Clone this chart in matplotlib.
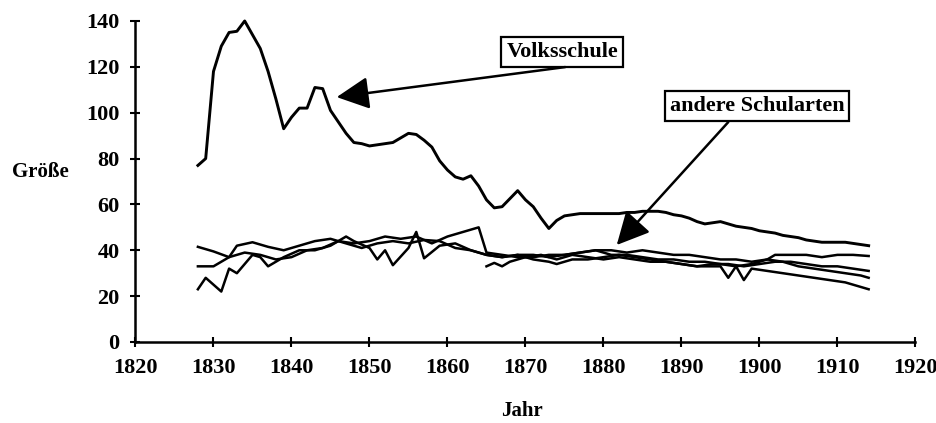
import matplotlib
matplotlib.use("Agg")
import matplotlib.pyplot as plt

# Volksschule (yearly)
volks_years = list(range(1828, 1915))
volks_vals = [77, 80, 118, 129, 135, 135.5, 140, 134, 128, 118,
              106, 93, 98, 102, 102, 111, 110.5, 101, 96, 91,
              87, 86.5, 85.5, 86, 86.5, 87, 89, 91, 90.5, 88,
              85, 79, 75, 72, 71, 72.5, 68, 62, 58.5, 59,
              62.5, 66, 62, 59, 54, 49.5, 53, 55, 55.5, 56,
              56, 56, 56, 56, 56, 56.5, 56.5, 57, 57, 57,
              56.5, 55.5, 55, 54, 52.5, 51.5, 52, 52.5, 51.5, 50.5,
              50, 49.5, 48.5, 48, 47.5, 46.5, 46, 45.5, 44.5, 44,
              43.5, 43.5, 43.5, 43.5, 43, 42.5, 42]

# andere Schularten
yrs_a = [1828, 1830, 1832, 1833, 1835, 1837, 1839, 1841, 1843, 1845, 1847, 1849,
         1851, 1853, 1855, 1857, 1859, 1861, 1863, 1865, 1867, 1869, 1871, 1873,
         1875, 1877, 1879, 1881, 1883, 1885, 1887, 1889, 1891, 1893, 1895, 1897,
         1899, 1901, 1902, 1904, 1906, 1908, 1910, 1912, 1914]
val_a = [41.5, 39.5, 37, 42, 43.5, 41.5, 40, 42, 44, 45, 43, 41,
         43, 44, 43, 44.5, 44, 41, 40, 38, 37, 38, 38, 37,
         38, 39, 40, 40, 39, 40, 39, 38, 38, 37, 36, 36,
         35, 36, 38, 38, 38, 37, 38, 38, 37.5]

yrs_b = [1828, 1830, 1832, 1834, 1836, 1838, 1840, 1842, 1844, 1846, 1848, 1850,
         1852, 1854, 1856, 1858, 1860, 1862, 1864, 1865, 1867, 1869, 1871, 1873,
         1875, 1877, 1879, 1881, 1883, 1885, 1887, 1889, 1891, 1893, 1895, 1897,
         1899, 1901, 1903, 1905, 1907, 1909, 1911, 1913, 1914]
val_b = [33, 33, 37, 39, 38, 36, 37, 40, 41, 44, 43, 44,
         46, 45, 46, 43, 46, 48, 50, 39, 38, 37, 37, 38,
         38, 39, 40, 38, 38, 37, 36, 36, 35, 35, 34, 33,
         34, 36, 35, 33, 32, 31, 30, 29, 28]

yrs_c = [1828, 1829, 1831, 1832, 1833, 1835, 1836, 1837, 1839, 1841, 1843, 1845,
         1847, 1848, 1850, 1851, 1852, 1853, 1855, 1856, 1857, 1859, 1861, 1863,
         1865, 1867, 1869, 1871, 1873, 1874, 1876, 1878, 1880, 1882, 1884, 1886,
         1888, 1890, 1892, 1894, 1895, 1896, 1897, 1898, 1899, 1901, 1903, 1905,
         1907, 1909, 1911, 1913, 1914]
val_c = [23, 28, 22, 32, 30, 38, 37, 33, 37, 40, 40, 42,
         46, 44, 41, 36, 40, 33.5, 41, 48, 36.5, 42, 43, 40,
         38, 37, 38, 36, 35, 34, 36, 36, 37, 38, 37, 36,
         35, 34, 33, 33, 33, 28, 33, 27, 32, 31, 30, 29,
         28, 27, 26, 24, 23]

yrs_d = [1865, 1866, 1867, 1868, 1870, 1872, 1874, 1876, 1878, 1880, 1882, 1884,
         1886, 1888, 1890, 1892, 1894, 1896, 1898, 1900, 1902, 1904, 1906, 1908,
         1910, 1912, 1914]
val_d = [33, 34.5, 33, 35, 37, 38, 36, 38, 37, 36, 37, 36,
         35, 35, 34, 33, 34, 34, 33, 34, 35, 35, 34, 33,
         33, 32, 31]

plt.rcParams['font.family'] = ['Liberation Serif', 'DejaVu Serif']
plt.rcParams['font.weight'] = 'bold'

fig = plt.figure(figsize=(9.37, 4.23), dpi=100)
ax = fig.add_axes([0.1446, 0.1915, 0.8324, 0.7589])

ax.plot(volks_years, volks_vals, color='black', lw=2.1, clip_on=False)
for yy, vv in [(yrs_a, val_a), (yrs_b, val_b), (yrs_c, val_c), (yrs_d, val_d)]:
    ax.plot(yy, vv, color='black', lw=1.8, clip_on=False)

ax.set_xlim(1820, 1920)
ax.set_ylim(0, 140)
ax.set_xticks(range(1820, 1921, 10))
ax.set_yticks(range(0, 141, 20))
ax.spines['top'].set_visible(False)
ax.spines['right'].set_visible(False)
ax.spines['left'].set_linewidth(1.8)
ax.spines['bottom'].set_linewidth(1.8)
ax.tick_params(direction='inout', length=7, width=1.5, labelsize=16, pad=8)

ax.set_ylabel('Größe', rotation=0, fontsize=15, fontweight='bold', ha='center', va='center')
ax.yaxis.set_label_coords(-0.122, 0.53)
ax.set_xlabel('Jahr', fontsize=15, fontweight='bold', ha='center', va='center')
ax.xaxis.set_label_coords(0.4955, -0.215)

box = dict(boxstyle='square,pad=0.22', fc='white', ec='black', lw=1.6)
arrow = dict(arrowstyle='-|>,head_length=0.5,head_width=0.25', color='black', lw=1.8,
             mutation_scale=40, shrinkA=0, shrinkB=0)

ax.text(1874.7, 126.5, 'Volksschule', fontsize=16, fontweight='bold',
        ha='center', va='center', bbox=box)
ax.annotate('', xy=(1845.8, 106.8), xytext=(1875.1, 119.9), arrowprops=arrow)

ax.text(1899.7, 102.9, 'andere Schularten', fontsize=16, fontweight='bold',
        ha='center', va='center', bbox=box)
ax.annotate('', xy=(1881.7, 42.3), xytext=(1896.0, 95.9), arrowprops=arrow)

fig.savefig('out.png', dpi=100)
